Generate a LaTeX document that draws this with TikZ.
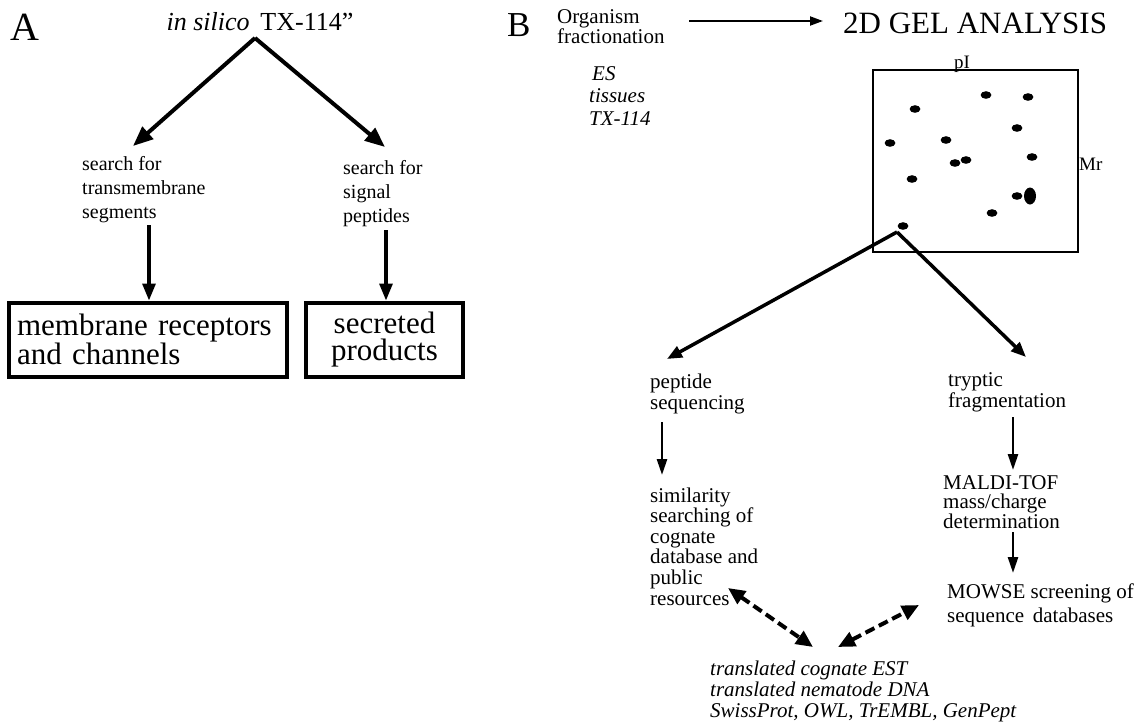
\documentclass[tikz,border=0pt]{standalone}
\usepackage{fontspec}
\setmainfont{Liberation Serif}
\usetikzlibrary{arrows.meta}
\begin{document}
\begin{tikzpicture}[x=1pt,y=-1pt,
  txt/.style={inner sep=0pt, align=left, anchor=base west, font=\fontsize{21}{21}\selectfont},
  txtA/.style={inner sep=0pt, align=left, anchor=base west, font=\fontsize{20}{24}\selectfont},
  panel/.style={inner sep=0pt, anchor=base west},
  bigarrow/.style={line width=4pt, -{Triangle[length=20pt,width=16pt]}},
  vdarrow/.style={line width=3.2pt, -{Triangle[length=17pt,width=13pt]}},
  barrow/.style={line width=3.5pt, -{Triangle[length=15pt,width=12pt]}},
  sarrow/.style={line width=2.6pt, -{Triangle[length=16pt,width=10pt]}},
  thinarrow/.style={line width=2pt, -{Triangle[length=13pt,width=9pt]}},
  dasharrow/.style={line width=4pt, dash pattern=on 10pt off 5pt, {Triangle[length=17pt,width=15pt]}-{Triangle[length=17pt,width=15pt]}},
  outbox/.style={draw, line width=4pt, inner sep=0pt, font=\fontsize{31}{27}\selectfont},
  spot/.style={fill=black}
]
\useasboundingbox (0,0) rectangle (1135,721);

% ---------------- Panel A ----------------
\node[panel, font=\fontsize{40}{40}\selectfont] (labA) at (10,40) {A};
\node[inner sep=0pt, anchor=base, font=\fontsize{26}{26}\selectfont] (title) at (260,30) {\textit{in silico}\, TX-114”};
\coordinate (apexA) at (255,38);
\coordinate (tipTM) at (133,146);
\coordinate (tipSP) at (385,147);
\draw[bigarrow] (apexA) -- (tipTM);
\draw[bigarrow] (apexA) -- (tipSP);

% multi-line nodes: base anchor sits on the last line
\node[txtA] (sTM) at (82,218) {search for\\transmembrane\\segments};
\node[txtA] (sSP) at (343,222) {search for\\signal\\peptides};

\node[outbox, minimum width=278pt, minimum height=74pt, text width=262pt, align=left] (mem) at (148,339.5) {membrane receptors\\and channels};
\node[outbox, minimum width=157pt, minimum height=74pt, align=center] (sec) at (384.5,339.5) {secreted\\products};

\coordinate (sTMb) at (149,225);
\coordinate (sSPb) at (386,230);
\draw[vdarrow] (sTMb) -- (sTMb |- mem.north);
\draw[vdarrow] (sSPb) -- (sSPb |- sec.north);

% ---------------- Panel B ----------------
\node[panel, font=\fontsize{35}{35}\selectfont] (labB) at (507,36) {B};
\node[txt, font=\fontsize{21}{20}\selectfont] (org) at (557,43) {Organism\\fractionation};
\node[inner sep=0pt, anchor=base west, font=\fontsize{31}{31}\selectfont] (gel) at (843,33) {2D GEL ANALYSIS};
\coordinate (orgR) at (689,21);
\coordinate (gelL) at (823,21);
\draw[thinarrow] (orgR) -- (gelL);

\node[txt, font=\fontsize{21}{22.5}\selectfont\itshape] (frac) at (589,125) {\hspace{3pt}ES\\tissues\\TX-114};

% gel
\draw[line width=1.3pt] (873,70) rectangle (1078,252);
\node[inner sep=0pt, anchor=base, font=\fontsize{19}{19}\selectfont] (pI) at (962,68) {pI};
\node[inner sep=0pt, anchor=base west, font=\fontsize{19}{19}\selectfont] (Mr) at (1079,170) {Mr};

\foreach \x/\y in {915/109, 986/95, 1028/97, 1017/128, 890/143, 946/140, 955/163, 966/160, 1032/157, 912/179, 1017/196, 992/213, 903/226}
  \fill[spot] (\x,\y) ellipse [x radius=5.4, y radius=3.8];
\fill[spot] (1030,196) ellipse [x radius=6, y radius=8.5];

\coordinate (apexB) at (897,232);
\coordinate (tipPep) at (667,359);
\coordinate (tipTry) at (1026,357);
\draw[barrow] (apexB) -- (tipPep);
\draw[barrow] (apexB) -- (tipTry);

\node[txt] (pep) at (650,409) {peptide\\sequencing};
\node[txt] (try) at (948,407) {tryptic\\fragmentation};

\node[txt, font=\fontsize{21}{20.6}\selectfont] (sim) at (650,605) {similarity\\searching of\\cognate\\database and\\public\\resources};
\node[txt, font=\fontsize{21}{19.5}\selectfont] (maldi) at (943,528) {MALDI-TOF\\mass/charge\\determination};
\node[txt, font=\fontsize{21}{24}\selectfont] (mowse) at (947,622) {MOWSE screening of\\sequence\, databases};

\coordinate (pepB) at (662,422);
\coordinate (simT) at (662,475);
\coordinate (tryB) at (1013,417);
\coordinate (maldiT) at (1013,470);
\coordinate (maldiB) at (1013,532);
\coordinate (mowseT) at (1013,573);
\draw[sarrow] (pepB) -- (simT);
\draw[sarrow] (tryB) -- (maldiT);
\draw[sarrow] (maldiB) -- (mowseT);

\node[txt, font=\fontsize{21}{21}\selectfont\itshape] (dbs) at (710,717) {translated cognate EST\\translated nematode DNA\\SwissProt, OWL, TrEMBL, GenPept};

\coordinate (simEnd) at (728,588);
\coordinate (dbsL) at (813,647);
\coordinate (mowseEnd) at (919,605);
\coordinate (dbsR) at (838,647);
\draw[dasharrow] (simEnd) -- (dbsL);
\draw[dasharrow] (dbsR) -- (mowseEnd);
\end{tikzpicture}
\end{document}
